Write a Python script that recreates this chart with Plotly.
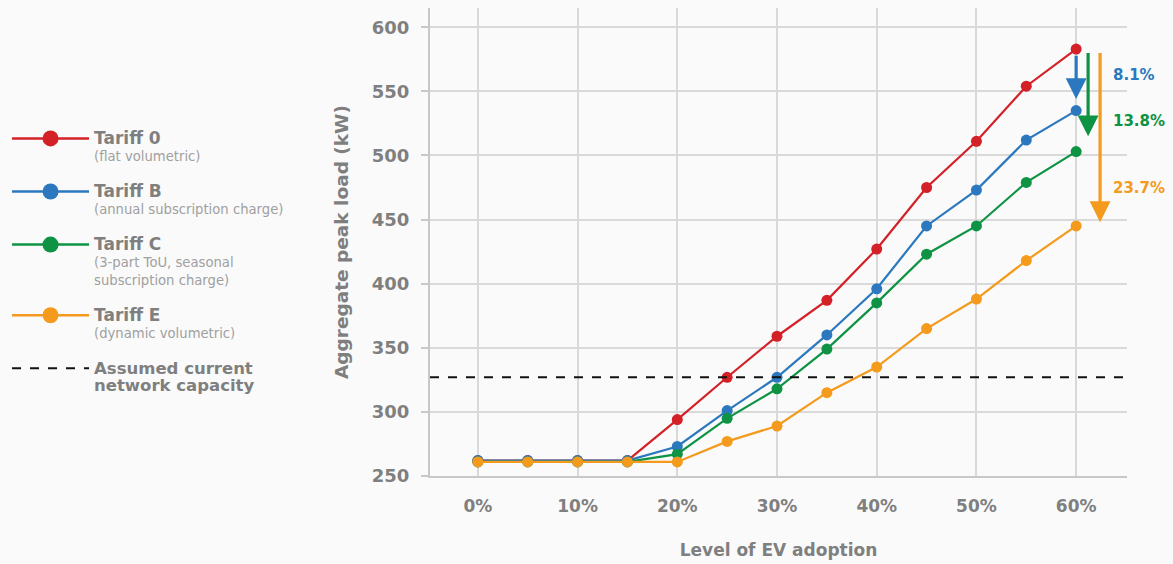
import plotly.graph_objects as go

# ---- data ----
ev_adoption = [0, 5, 10, 15, 20, 25, 30, 35, 40, 45, 50, 55, 60]
tariff_0 = [262, 262, 262, 262, 294, 327, 359, 387, 427, 475, 511, 554, 583]
tariff_b = [262, 262, 262, 262, 273, 301, 327, 360, 396, 445, 473, 512, 535]
tariff_c = [261, 261, 261, 261, 267, 295, 318, 349, 385, 423, 445, 479, 503]
tariff_e = [261, 261, 261, 261, 261, 277, 289, 315, 335, 365, 388, 418, 445]
capacity = 327
reductions = ["8.1%", "13.8%", "23.7%"]
x_tick_vals = [0, 10, 20, 30, 40, 50, 60]
x_tick_text = ["0%", "10%", "20%", "30%", "40%", "50%", "60%"]
y_tick_vals = [250, 300, 350, 400, 450, 500, 550, 600]

FONT = "DejaVu Sans"
title = "<span style='font-size:17px'><b>{}</b></span>"
sub = "<span style='font-size:13.2px;color:#a0a0a0'>{}</span>"
series_names = [
    title.format("Tariff 0") + "<br>" + sub.format("(flat volumetric)"),
    title.format("Tariff B") + "<br>" + sub.format("(annual subscription charge)"),
    title.format("Tariff C") + "<br>" + sub.format("(3-part ToU, seasonal") + "<br>" + sub.format("subscription charge)"),
    title.format("Tariff E") + "<br>" + sub.format("(dynamic volumetric)"),
]
capacity_name = "<span style='font-size:16.5px'><b>Assumed current<br>network capacity</b></span>"
colors = ["#d42027", "#2c78be", "#0d9343", "#f49a1c"]

x_range = [-4.8, 65.1]
y_range = [250, 615]

fig = go.Figure()
for i, (name, vals, col) in enumerate(zip(series_names, [tariff_0, tariff_b, tariff_c, tariff_e], colors)):
    fig.add_trace(go.Scatter(
        x=ev_adoption, y=vals, name=name, mode="lines+markers", legendgroup=f"g{i}",
        showlegend=False,
        line=dict(color=col, width=2.2),
        marker=dict(color=col, size=11),
    ))
    # legend-only entry with a larger symbol
    fig.add_trace(go.Scatter(
        x=[None], y=[None], name=name, mode="lines+markers", legendgroup=f"g{i}",
        line=dict(color=col, width=2.5),
        marker=dict(color=col, size=16),
    ))

fig.add_trace(go.Scatter(
    x=x_range, y=[capacity, capacity], name=capacity_name, mode="lines", legendgroup="cap",
    line=dict(color="#111111", width=2, dash="dash"),
))

# reduction arrows from Tariff 0 peak down to each tariff's 60% value
arrow_x = [60, 61.2, 62.4]
arrow_end_offset = [9, 12, 3]
targets = [tariff_b[-1], tariff_c[-1], tariff_e[-1]]
label_y = [563, 527, 475]
for i, (ax_, tgt, off, col, lab, ly) in enumerate(
        zip(arrow_x, targets, arrow_end_offset, colors[1:], reductions, label_y)):
    fig.add_annotation(
        x=ax_, y=tgt + off, ax=ax_, ay=tariff_0[-1] - 4 if i == 0 else tariff_0[-1] - 2,
        xref="x", yref="y", axref="x", ayref="y", text="", showarrow=True,
        arrowhead=2, arrowsize=1.3, arrowwidth=3.2, arrowcolor=col,
    )
    fig.add_annotation(
        x=63.5, y=ly, xref="x", yref="y", text=f"<b>{lab}</b>", showarrow=False,
        xanchor="left", yanchor="middle", font=dict(size=15, color=col, family=FONT),
    )

fig.update_layout(
    width=1173, height=564,
    margin=dict(l=430, r=46, t=8, b=88),
    paper_bgcolor="#fafafa", plot_bgcolor="#fafafa",
    font=dict(family=FONT, color="#7f7f7f"),
    showlegend=True,
    legend=dict(
        xref="container", yref="paper", x=0.006, y=0.754,
        xanchor="left", yanchor="top", valign="top",
        font=dict(size=13.5, color="#7f7f7f", family=FONT),
        tracegroupgap=15, itemwidth=77, bgcolor="rgba(0,0,0,0)",
    ),
    xaxis=dict(
        range=x_range, tickvals=x_tick_vals, ticktext=x_tick_text,
        showgrid=True, gridcolor="#d9d9d9", gridwidth=1.5,
        showline=True, linecolor="#c8c8c8", linewidth=2,
        zeroline=False, ticks="", ticklabelstandoff=14,
        tickfont=dict(size=17, color="#7f7f7f", family=FONT, weight="bold"),
        title=dict(text="<b>Level of EV adoption</b>", font=dict(size=17, color="#7f7f7f"), standoff=29),
    ),
    yaxis=dict(
        range=y_range, tickvals=y_tick_vals,
        showgrid=True, gridcolor="#d9d9d9", gridwidth=1.5,
        showline=True, linecolor="#c8c8c8", linewidth=2,
        zeroline=False, ticks="outside", ticklen=7, tickcolor="#c8c8c8", tickwidth=1.5,
        ticklabelstandoff=8,
        tickfont=dict(size=18, color="#7f7f7f", family=FONT, weight="bold"),
        title=dict(text="<b>Aggregate peak load (kW)</b>", font=dict(size=18.5, color="#7f7f7f"), standoff=18),
    ),
)

fig.write_html("out.html", config={"displayModeBar": False},
               post_script="document.body.style.margin='0';document.body.style.background='#fafafa';")
